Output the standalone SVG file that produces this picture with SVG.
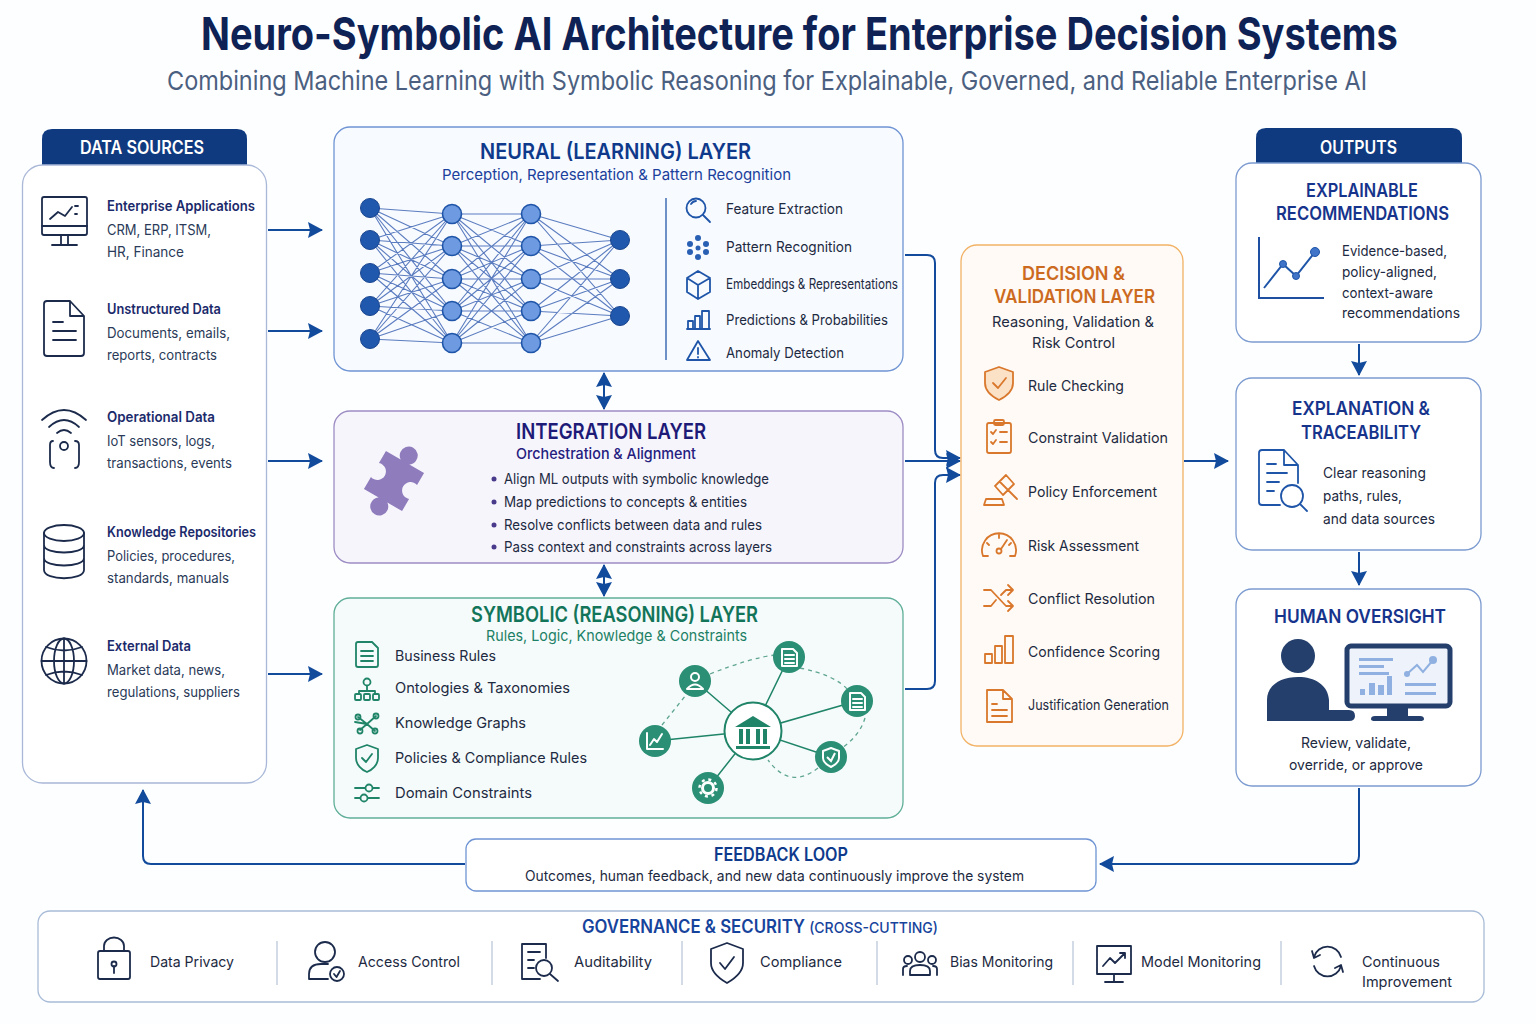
<svg xmlns="http://www.w3.org/2000/svg" width="1536" height="1024" viewBox="0 0 1536 1024">
<defs>
<marker id="ah" markerUnits="userSpaceOnUse" markerWidth="16" markerHeight="18" refX="14" refY="8" orient="auto-start-reverse"><path d="M0 0L15 8L0 16L2 8Z" fill="#134b9c"/></marker>
</defs>
<style>
text{font-family:Inter,"Noto Sans","Liberation Sans",sans-serif;font-size:14px;fill:#2a3a58}
.t{font-weight:600;font-size:22px}
.s{font-size:15px}
.h{font-weight:600;font-size:14px;fill:#1b2a6b}
.b{font-size:14.5px;fill:#1d2a42}
.w{font-weight:600;font-size:18px;fill:#fff}
.p{stroke-width:1.3}
.i{fill:none;stroke-width:1.8;stroke-linecap:round;stroke-linejoin:round}
.navy{stroke:#1c2b4c}.blue{stroke:#1f55a8}.grn{stroke:#1f8468}.org{stroke:#d9782c}
.c{fill:none;stroke:#134b9c;stroke-width:2}
.g{fill:none;stroke:#1f8468;stroke-width:1.5}
.d{fill:none;stroke:#5fa592;stroke-width:1.3;stroke-dasharray:4 4}
.sat{fill:#2a8f74}
.wi{fill:none;stroke:#fff;stroke-width:2;stroke-linejoin:round;stroke-linecap:round}
</style>
<rect width="1536" height="1024" fill="#fdfeff"/>

<g id="title">
<text transform="translate(201 50) scale(.8 1)" x="0" y="0" textLength="1496" lengthAdjust="spacingAndGlyphs" style="font-size:45px;font-weight:700;fill:#0e2255">Neuro-Symbolic AI Architecture for Enterprise Decision Systems</text>
<text x="167" y="90" textLength="1200" lengthAdjust="spacingAndGlyphs" style="font-size:26px;fill:#4b6080">Combining Machine Learning with Symbolic Reasoning for Explainable, Governed, and Reliable Enterprise AI</text>
</g>

<g id="connectors">
<path class="c" marker-end="url(#ah)" d="M268 230H322"/>
<path class="c" marker-end="url(#ah)" d="M268 331H322"/>
<path class="c" marker-end="url(#ah)" d="M268 461H322"/>
<path class="c" marker-end="url(#ah)" d="M268 674H322"/>
<path class="c" marker-start="url(#ah)" marker-end="url(#ah)" d="M604 373V409"/>
<path class="c" marker-start="url(#ah)" marker-end="url(#ah)" d="M604 565V596"/>
<path class="c" marker-end="url(#ah)" d="M905 255H927Q935 255 935 263V450Q935 458 943 458H960"/>
<path class="c" marker-end="url(#ah)" d="M905 461H960"/>
<path class="c" marker-end="url(#ah)" d="M905 689H927Q935 689 935 681V483Q935 475 943 475H960"/>
<path class="c" marker-end="url(#ah)" d="M1184 461H1228"/>
<path class="c" marker-end="url(#ah)" d="M1359 344V375"/>
<path class="c" marker-end="url(#ah)" d="M1359 552V585"/>
<path class="c" marker-end="url(#ah)" d="M1359 788V856Q1359 864 1351 864H1100"/>
<path class="c" marker-end="url(#ah)" d="M465 864H151Q143 864 143 856V790"/>
</g>

<g id="data-sources">
<path d="M42 166V139Q42 129 52 129H237Q247 129 247 139V166Z" fill="#0f3a80"/>
<text class="w" x="80" y="154" textLength="124" lengthAdjust="spacingAndGlyphs">DATA SOURCES</text>
<rect class="p" x="22.5" y="165" width="244" height="618" rx="20" fill="#fff" stroke="#a9b8d8"/>
<g id="src-enterprise">
<g class="i navy"><rect x="42" y="197" width="45" height="38" rx="2"/><path d="M42 226H87M61 235V245M68 235V245M52 245H77M50 219L58 212L65 216L72 207M75 206H78M75 214H77"/></g>
<text class="h" x="107" y="211" textLength="148" lengthAdjust="spacingAndGlyphs">Enterprise Applications</text>
<text x="107" y="235" textLength="104" lengthAdjust="spacingAndGlyphs">CRM, ERP, ITSM,</text>
<text x="107" y="257" textLength="77" lengthAdjust="spacingAndGlyphs">HR, Finance</text>
</g>
<g id="src-unstructured">
<g class="i navy"><path d="M47 301H70L84 316V353Q84 356 81 356H47Q44 356 44 353V304Q44 301 47 301ZM70 301V316H84M53 322H63M53 331H76M53 340H76"/></g>
<text class="h" x="107" y="314" textLength="114" lengthAdjust="spacingAndGlyphs">Unstructured Data</text>
<text x="107" y="338" textLength="123" lengthAdjust="spacingAndGlyphs">Documents, emails,</text>
<text x="107" y="360" textLength="110" lengthAdjust="spacingAndGlyphs">reports, contracts</text>
</g>
<g id="src-operational">
<g class="i navy"><path d="M42 420Q64 400 86 420M49 427Q64 413 79 427M57 433Q64 427 71 433M53 441Q50 441 50 445V462Q50 468 54 468M75 441Q79 441 79 445V462Q79 468 75 468"/><circle cx="64" cy="446" r="4"/></g>
<text class="h" x="107" y="422" textLength="108" lengthAdjust="spacingAndGlyphs">Operational Data</text>
<text x="107" y="446" textLength="108" lengthAdjust="spacingAndGlyphs">IoT sensors, logs,</text>
<text x="107" y="468" textLength="125" lengthAdjust="spacingAndGlyphs">transactions, events</text>
</g>
<g id="src-knowledge">
<g class="i navy"><ellipse cx="64" cy="533" rx="20" ry="8"/><path d="M44 533V570C44 581 84 581 84 570V533M44 545C44 555 84 555 84 545M44 558C44 568 84 568 84 558"/></g>
<text class="h" x="107" y="537" textLength="149" lengthAdjust="spacingAndGlyphs">Knowledge Repositories</text>
<text x="107" y="561" textLength="128" lengthAdjust="spacingAndGlyphs">Policies, procedures,</text>
<text x="107" y="583" textLength="122" lengthAdjust="spacingAndGlyphs">standards, manuals</text>
</g>
<g id="src-external">
<g class="i navy"><circle cx="64" cy="661" r="22.5"/><ellipse cx="64" cy="661" rx="10" ry="22.5"/><path d="M64 638.5V683.5M41.5 661H86.5M46 647Q64 654 82 647M46 675Q64 668 82 675"/></g>
<text class="h" x="107" y="651" textLength="84" lengthAdjust="spacingAndGlyphs">External Data</text>
<text x="107" y="675" textLength="118" lengthAdjust="spacingAndGlyphs">Market data, news,</text>
<text x="107" y="697" textLength="133" lengthAdjust="spacingAndGlyphs">regulations, suppliers</text>
</g>
</g>

<g id="neural-layer">
<rect class="p" x="334" y="127" width="569" height="244" rx="16" fill="#f7faff" stroke="#6f94d4"/>
<text class="t" x="480" y="159" textLength="271" lengthAdjust="spacingAndGlyphs" style="fill:#0f3a8c">NEURAL (LEARNING) LAYER</text>
<text class="s" x="442" y="180" textLength="349" lengthAdjust="spacingAndGlyphs" style="fill:#1a3f9c">Perception, Representation &amp; Pattern Recognition</text>
<path fill="none" stroke="#3f66b4" stroke-width="1.1" stroke-opacity=".85" d="M370 208L452 214M370 208L452 246M370 208L452 279M370 208L452 311M370 208L452 343M370 240L452 214M370 240L452 246M370 240L452 279M370 240L452 311M370 240L452 343M370 273L452 214M370 273L452 246M370 273L452 279M370 273L452 311M370 273L452 343M370 306L452 214M370 306L452 246M370 306L452 279M370 306L452 311M370 306L452 343M370 339L452 214M370 339L452 246M370 339L452 279M370 339L452 311M370 339L452 343M452 214L531 214M452 214L531 246M452 214L531 279M452 214L531 311M452 214L531 343M452 246L531 214M452 246L531 246M452 246L531 279M452 246L531 311M452 246L531 343M452 279L531 214M452 279L531 246M452 279L531 279M452 279L531 311M452 279L531 343M452 311L531 214M452 311L531 246M452 311L531 279M452 311L531 311M452 311L531 343M452 343L531 214M452 343L531 246M452 343L531 279M452 343L531 311M452 343L531 343M531 214L620 240M531 214L620 279M531 214L620 316M531 246L620 240M531 246L620 279M531 246L620 316M531 279L620 240M531 279L620 279M531 279L620 316M531 311L620 240M531 311L620 279M531 311L620 316M531 343L620 240M531 343L620 279M531 343L620 316"/>
<g fill="#2058ad" stroke="#1a468f"><circle cx="370" cy="208" r="9.5"/><circle cx="370" cy="240" r="9.5"/><circle cx="370" cy="273" r="9.5"/><circle cx="370" cy="306" r="9.5"/><circle cx="370" cy="339" r="9.5"/><circle cx="620" cy="240" r="9.5"/><circle cx="620" cy="279" r="9.5"/><circle cx="620" cy="316" r="9.5"/></g>
<g fill="#6d9ae0" stroke="#1f55a8" stroke-width="1.6"><circle cx="452" cy="214" r="9.5"/><circle cx="452" cy="246" r="9.5"/><circle cx="452" cy="279" r="9.5"/><circle cx="452" cy="311" r="9.5"/><circle cx="452" cy="343" r="9.5"/><circle cx="531" cy="214" r="9.5"/><circle cx="531" cy="246" r="9.5"/><circle cx="531" cy="279" r="9.5"/><circle cx="531" cy="311" r="9.5"/><circle cx="531" cy="343" r="9.5"/></g>
<path d="M666 198V360" stroke="#3f6cb5" stroke-width="1.5"/>
<g class="i blue"><circle cx="696" cy="208" r="9.5"/><path d="M703 215L710 222M691 204Q693 201 696 201"/>
<path d="M698 276L710 283V297L698 304L687 297V283ZM687 283L698 290L710 283M698 290V304" transform="translate(0,-5)"/>
<path d="M688 329V321H693V329ZM695 329V316H700V329ZM702 329V311H709V329ZM687 329H710"/>
<path d="M698 341L710 360H687ZM698 348V354M698 357V357.5"/></g>
<g fill="#2a60b4"><circle cx="698" cy="238" r="3"/><circle cx="690" cy="244" r="3"/><circle cx="706" cy="244" r="3"/><circle cx="698" cy="248" r="2.5"/><circle cx="690" cy="252" r="3"/><circle cx="706" cy="252" r="3"/><circle cx="698" cy="257" r="3"/></g>
<text class="b" x="726" y="214" textLength="117" lengthAdjust="spacingAndGlyphs">Feature Extraction</text>
<text class="b" x="726" y="252" textLength="126" lengthAdjust="spacingAndGlyphs">Pattern Recognition</text>
<text class="b" x="726" y="289" textLength="172" lengthAdjust="spacingAndGlyphs">Embeddings &amp; Representations</text>
<text class="b" x="726" y="325" textLength="162" lengthAdjust="spacingAndGlyphs">Predictions &amp; Probabilities</text>
<text class="b" x="726" y="358" textLength="118" lengthAdjust="spacingAndGlyphs">Anomaly Detection</text>
</g>

<g id="integration-layer">
<rect class="p" x="334" y="411" width="569" height="152" rx="16" fill="#f7f5fc" stroke="#9d8cc4"/>
<text class="t" x="516" y="439" textLength="190" lengthAdjust="spacingAndGlyphs" style="fill:#1e1a78">INTEGRATION LAYER</text>
<text class="s" x="516" y="459" textLength="180" lengthAdjust="spacingAndGlyphs" style="fill:#25207f;font-weight:500">Orchestration &amp; Alignment</text>
<path transform="rotate(30 394 481)" fill="#8f7cbc" d="M372 459H389A9 9 0 1 1 399 459H416V473A8.500 8.500 0 1 0 416 489V503H399A9 9 0 1 1 389 503H372V489A8.500 8.500 0 1 0 372 473Z"/>
<g fill="#4a3a8c"><circle cx="494" cy="479" r="2.5"/><circle cx="494" cy="502" r="2.5"/><circle cx="494" cy="525" r="2.5"/><circle cx="494" cy="547" r="2.5"/></g>
<text class="b" x="504" y="484" textLength="265" lengthAdjust="spacingAndGlyphs">Align ML outputs with symbolic knowledge</text>
<text class="b" x="504" y="507" textLength="243" lengthAdjust="spacingAndGlyphs">Map predictions to concepts &amp; entities</text>
<text class="b" x="504" y="530" textLength="258" lengthAdjust="spacingAndGlyphs">Resolve conflicts between data and rules</text>
<text class="b" x="504" y="552" textLength="268" lengthAdjust="spacingAndGlyphs">Pass context and constraints across layers</text>
</g>

<g id="symbolic-layer">
<rect class="p" x="334" y="598" width="569" height="220" rx="16" fill="#f5fbfa" stroke="#5fae98"/>
<text class="t" x="471" y="622" textLength="287" lengthAdjust="spacingAndGlyphs" style="fill:#12755a">SYMBOLIC (REASONING) LAYER</text>
<text class="s" x="486" y="641" textLength="261" lengthAdjust="spacingAndGlyphs" style="fill:#1c8066">Rules, Logic, Knowledge &amp; Constraints</text>
<g class="i grn"><path d="M358 642H372L378 648V665Q378 667 376 667H358Q356 667 356 665V644Q356 642 358 642ZM361 651H373M361 656H373M361 661H373"/>
<circle cx="367" cy="682" r="3.5"/><path d="M367 686V691M359 694V691H375V694"/><rect x="355" y="694" width="6" height="6" rx="1"/><rect x="364" y="694" width="6" height="6" rx="1"/><rect x="373" y="694" width="6" height="6" rx="1"/>
<path d="M358 717L367 724L376 716M360 730L367 724L375 731M355 722L367 724"/><circle cx="376" cy="716" r="2.5"/><circle cx="358" cy="717" r="2.5"/><circle cx="360" cy="731" r="2.5"/><circle cx="375" cy="731" r="2.5"/>
<path d="M367 745L378 749V758C378 765 372 770 367 772C362 770 356 765 356 758V749ZM362 758L366 762L372 754"/>
<path d="M355 788H365M373 788H379M355 798H360M368 798H379"/><circle cx="369" cy="788" r="3.5"/><circle cx="364" cy="798" r="3.5"/></g>
<text class="b" x="395" y="661" textLength="101" lengthAdjust="spacingAndGlyphs">Business Rules</text>
<text class="b" x="395" y="693" textLength="175" lengthAdjust="spacingAndGlyphs">Ontologies &amp; Taxonomies</text>
<text class="b" x="395" y="728" textLength="131" lengthAdjust="spacingAndGlyphs">Knowledge Graphs</text>
<text class="b" x="395" y="763" textLength="192" lengthAdjust="spacingAndGlyphs">Policies &amp; Compliance Rules</text>
<text class="b" x="395" y="798" textLength="137" lengthAdjust="spacingAndGlyphs">Domain Constraints</text>
<path class="d" d="M710 674Q750 658 775 655M800 668Q835 675 848 690M865 718Q860 735 842 748M818 768Q790 790 768 760M662 725L686 695"/>
<path class="g" d="M753 731L695 681M753 731L789 657M753 731L857 701M753 731L655 741M753 731L708 788M753 731L831 757"/>
<circle cx="753" cy="731" r="28.5" fill="#fff" stroke="#1f8468" stroke-width="2"/>
<path fill="#1f8468" d="M753 716L771 727H735ZM739 729H743V744H739ZM746 729H750V744H746ZM756 729H760V744H756ZM763 729H767V744H763ZM736 746H770V749H736Z"/>
<g class="sat"><circle cx="695" cy="681" r="16"/><circle cx="789" cy="657" r="16"/><circle cx="857" cy="701" r="16"/><circle cx="655" cy="741" r="16"/><circle cx="708" cy="788" r="16"/><circle cx="831" cy="757" r="16"/></g>
<g class="wi"><circle cx="695" cy="677" r="4"/><path d="M687 689Q695 680 703 689Z"/>
<path d="M782 649H793L797 653V666H782ZM785 655H794M785 659H794M785 663H794"/>
<path d="M850 693H861L865 697V710H850ZM853 699H862M853 703H862M853 707H862"/>
<path d="M647 733V749H663M650 745L654 739L657 742L662 734"/>
<circle cx="708" cy="788" r="5.500" stroke-width="3"/><circle cx="708" cy="788" r="8.500" stroke-dasharray="3 3.680" stroke-width="2.500" stroke-linecap="butt"/>
<path d="M831 748L839 751V758C839 762 835 765 831 767C827 765 823 762 823 758V751Z"/></g>
<path d="M827 757L831 761L835 753" fill="none" stroke="#fff" stroke-width="2"/>
</g>

<g id="decision-layer">
<rect class="p" x="961" y="245" width="222" height="501" rx="16" fill="#fffaf5" stroke="#f2b266"/>
<text class="t" x="1022" y="280" textLength="103" lengthAdjust="spacingAndGlyphs" style="font-size:19px;fill:#cc6a1f">DECISION &amp;</text>
<text class="t" x="994" y="303" textLength="161" lengthAdjust="spacingAndGlyphs" style="font-size:19px;fill:#cc6a1f">VALIDATION LAYER</text>
<text class="b" x="992" y="327" textLength="162" lengthAdjust="spacingAndGlyphs">Reasoning, Validation &amp;</text>
<text class="b" x="1032" y="348" textLength="83" lengthAdjust="spacingAndGlyphs">Risk Control</text>
<g class="i org">
<path d="M999 367L1013 372V383C1013 392 1005 397 999 400C993 397 985 392 985 383V372Z" fill="#fbe2c7"/><path d="M993 383L998 388L1006 378"/>
<rect x="987" y="423" width="24" height="30" rx="2"/><rect x="994" y="420" width="10" height="5" rx="1.5"/><path d="M991 432L993 434L996 430M991 442L993 444L996 440M1000 432H1007M1000 442H1007"/>
<path d="M995 486L1006 475L1014 484L1003 495ZM1000 482L1008 490M1006 488L1017 499M984 505L986 499H1002L1004 505Z"/>
<path d="M983 556A17 17 0 1 1 1015 556M983 556H988M1010 556H1015M999 535V538M987 543L989 545M1011 543L1009 545"/><circle cx="999" cy="551" r="2.5"/><path d="M1001 549L1007 540"/>
<path d="M984 590H991L1006 606H1012M984 606H991L996 600M1001 595L1006 590H1012M1008 585L1013 590L1008 595M1008 601L1013 606L1008 611"/>
<path d="M985 663V654H992V663ZM995 663V646H1002V663ZM1005 663V636H1013V663Z"/>
<path d="M987 690H1003L1012 699V722H987ZM1003 690V699H1012M992 704H997M992 710H1007M992 716H1007"/>
</g>
<text class="b" x="1028" y="391" textLength="96" lengthAdjust="spacingAndGlyphs">Rule Checking</text>
<text class="b" x="1028" y="443" textLength="140" lengthAdjust="spacingAndGlyphs">Constraint Validation</text>
<text class="b" x="1028" y="497" textLength="129" lengthAdjust="spacingAndGlyphs">Policy Enforcement</text>
<text class="b" x="1028" y="551" textLength="111" lengthAdjust="spacingAndGlyphs">Risk Assessment</text>
<text class="b" x="1028" y="604" textLength="127" lengthAdjust="spacingAndGlyphs">Conflict Resolution</text>
<text class="b" x="1028" y="657" textLength="132" lengthAdjust="spacingAndGlyphs">Confidence Scoring</text>
<text class="b" x="1028" y="710" textLength="141" lengthAdjust="spacingAndGlyphs">Justification Generation</text>
</g>

<g id="outputs-header">
<path d="M1256 164V138Q1256 128 1266 128H1452Q1462 128 1462 138V164Z" fill="#0f3a80"/>
<text class="w" x="1320" y="154" textLength="77" lengthAdjust="spacingAndGlyphs">OUTPUTS</text>
</g>

<g id="recommendations">
<rect class="p" x="1236" y="163" width="245" height="179" rx="16" fill="#fff" stroke="#7c9bd0"/>
<text class="t" x="1306" y="197" textLength="112" lengthAdjust="spacingAndGlyphs" style="font-size:19px;fill:#16348c">EXPLAINABLE</text>
<text class="t" x="1276" y="220" textLength="173" lengthAdjust="spacingAndGlyphs" style="font-size:19px;fill:#16348c">RECOMMENDATIONS</text>
<path d="M1259 237V298H1324" fill="none" stroke="#1f4fa0" stroke-width="2"/>
<path d="M1264 288L1283 264L1296 276L1315 252" fill="none" stroke="#1f55a8" stroke-width="2"/>
<g fill="#3f74c8" stroke="#1f55a8"><circle cx="1283" cy="264" r="3.5"/><circle cx="1296" cy="276" r="3.5"/><circle cx="1315" cy="252" r="4.5"/></g>
<text class="b" x="1342" y="256" textLength="105" lengthAdjust="spacingAndGlyphs">Evidence-based,</text>
<text class="b" x="1342" y="277" textLength="95" lengthAdjust="spacingAndGlyphs">policy-aligned,</text>
<text class="b" x="1342" y="298" textLength="91" lengthAdjust="spacingAndGlyphs">context-aware</text>
<text class="b" x="1342" y="318" textLength="118" lengthAdjust="spacingAndGlyphs">recommendations</text>
</g>

<g id="traceability">
<rect class="p" x="1236" y="378" width="245" height="172" rx="16" fill="#fff" stroke="#7c9bd0"/>
<text class="t" x="1292" y="415" textLength="138" lengthAdjust="spacingAndGlyphs" style="font-size:19px;fill:#16348c">EXPLANATION &amp;</text>
<text class="t" x="1301" y="439" textLength="120" lengthAdjust="spacingAndGlyphs" style="font-size:19px;fill:#16348c">TRACEABILITY</text>
<g class="i blue"><path d="M1280 505H1262Q1259 505 1259 502V453Q1259 450 1262 450H1284L1298 465V483M1284 450V465H1298M1267 464H1276M1267 473H1287M1267 482H1279M1267 491H1274"/><circle cx="1292" cy="496" r="11"/><path d="M1300 504L1307 511"/></g>
<text class="b" x="1323" y="478" textLength="103" lengthAdjust="spacingAndGlyphs">Clear reasoning</text>
<text class="b" x="1323" y="501" textLength="79" lengthAdjust="spacingAndGlyphs">paths, rules,</text>
<text class="b" x="1323" y="524" textLength="112" lengthAdjust="spacingAndGlyphs">and data sources</text>
</g>

<g id="human-oversight">
<rect class="p" x="1236" y="589" width="245" height="197" rx="16" fill="#fff" stroke="#7c9bd0"/>
<text class="t" x="1274" y="623" textLength="172" lengthAdjust="spacingAndGlyphs" style="font-size:19px;fill:#16348c">HUMAN OVERSIGHT</text>
<circle cx="1298" cy="656" r="17" fill="#243f6c"/>
<path fill="#243f6c" d="M1267 721V700C1267 685 1281 677 1298 677C1315 677 1328 685 1329 700V710H1349Q1355 710 1355 716Q1355 721 1349 721Z"/>
<rect x="1347" y="646" width="103" height="60" rx="4" fill="#eef3fb" stroke="#243f6c" stroke-width="5"/>
<path fill="#243f6c" d="M1387 706H1408V716H1420Q1424 716 1424 719Q1424 721 1420 721H1375Q1371 721 1371 719Q1371 716 1375 716H1387Z"/>
<g fill="#8fb0e0"><rect x="1359" y="658" width="34" height="3"/><rect x="1359" y="665" width="25" height="3"/><rect x="1359" y="672" width="30" height="3"/><rect x="1360" y="689" width="5" height="6"/><rect x="1369" y="683" width="6" height="12"/><rect x="1378" y="685" width="6" height="10"/><rect x="1387" y="676" width="5" height="19"/><rect x="1405" y="683" width="31" height="3"/><rect x="1405" y="692" width="31" height="3"/><circle cx="1407" cy="674" r="3"/><circle cx="1433" cy="660" r="4"/></g>
<path d="M1407 674L1417 665L1423 672L1433 660" fill="none" stroke="#8fb0e0" stroke-width="2"/>
<text class="b" x="1301" y="748" textLength="110" lengthAdjust="spacingAndGlyphs">Review, validate,</text>
<text class="b" x="1289" y="770" textLength="134" lengthAdjust="spacingAndGlyphs">override, or approve</text>
</g>

<g id="feedback-loop">
<rect class="p" x="466" y="839" width="630" height="52" rx="10" fill="#fff" stroke="#6f94d4"/>
<text class="t" x="714" y="861" textLength="134" lengthAdjust="spacingAndGlyphs" style="font-size:18px;fill:#0f3a8c">FEEDBACK LOOP</text>
<text class="b" x="525" y="881" textLength="499" lengthAdjust="spacingAndGlyphs">Outcomes, human feedback, and new data continuously improve the system</text>
</g>

<g id="governance">
<rect class="p" x="38" y="911" width="1446" height="91" rx="12" fill="#fff" stroke="#a8bcd8"/>
<text x="582" y="933" textLength="356" lengthAdjust="spacingAndGlyphs" style="font-size:18px;font-weight:600;fill:#16439c">GOVERNANCE &amp; SECURITY <tspan style="font-size:15px;font-weight:500;fill:#16439c">(CROSS-CUTTING)</tspan></text>
<path d="M277 941V985M492 941V985M682 941V985M877 941V985M1073 941V985M1281 941V985" stroke="#c5d0df" stroke-width="1.5"/>
<g class="i navy">
<rect x="98" y="951" width="32" height="28" rx="2"/><path d="M104 951V946A10 8.500 0 0 1 124 946V951M114 966V973"/><circle cx="114" cy="964" r="2.500"/>
<circle cx="325" cy="952" r="10"/><path d="M309 979V974Q309 964 321 964H328M309 979H328"/><circle cx="337" cy="974" r="7"/><path d="M334 974L336.500 977L340 971"/>
<path d="M522 979V944H546V958M522 979H540M528 952H540M528 960H534M528 968H534"/><circle cx="544" cy="968" r="8"/><path d="M550 974L558 981"/>
<path d="M727 943L743 949V963C743 973 734 979 727 983C720 979 711 973 711 963V949ZM720 963L725 969L734 957"/>
<circle cx="920" cy="957" r="5"/><circle cx="908" cy="960" r="4"/><circle cx="932" cy="960" r="4"/><path d="M910 975V971Q910 965 920 965Q930 965 930 971V975ZM903 975V969Q903 966 907 966M937 975V969Q937 966 933 966"/>
<path d="M1097 946H1131V974H1097ZM1114 974V982M1105 982H1123M1103 966L1110 958L1115 963L1125 953M1120 953H1125V958"/>
<path d="M1314 957A14 14 0 0 1 1341 957M1341 966A14 14 0 0 1 1314 966M1312 951L1314 958L1320 955M1343 972L1341 965L1335 968"/>
</g>
<text class="b" x="150" y="967" textLength="84" lengthAdjust="spacingAndGlyphs">Data Privacy</text>
<text class="b" x="358" y="967" textLength="102" lengthAdjust="spacingAndGlyphs">Access Control</text>
<text class="b" x="574" y="967" textLength="78" lengthAdjust="spacingAndGlyphs">Auditability</text>
<text class="b" x="760" y="967" textLength="82" lengthAdjust="spacingAndGlyphs">Compliance</text>
<text class="b" x="950" y="967" textLength="103" lengthAdjust="spacingAndGlyphs">Bias Monitoring</text>
<text class="b" x="1141" y="967" textLength="120" lengthAdjust="spacingAndGlyphs">Model Monitoring</text>
<text class="b" x="1362" y="967" textLength="78" lengthAdjust="spacingAndGlyphs">Continuous</text>
<text class="b" x="1362" y="987" textLength="90" lengthAdjust="spacingAndGlyphs">Improvement</text>
</g>
</svg>
